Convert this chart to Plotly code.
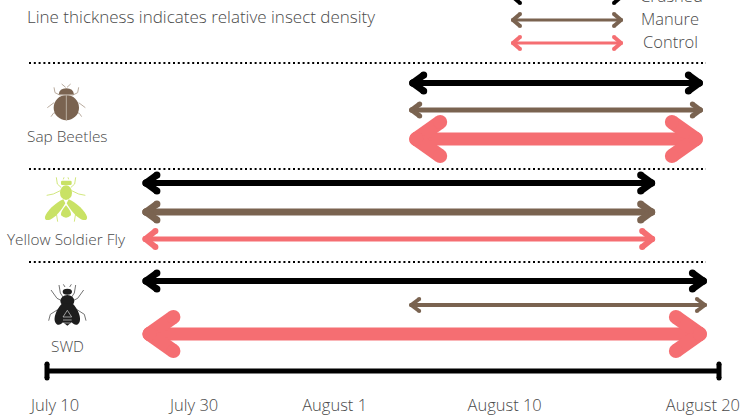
import base64
import plotly.graph_objects as go

# ---------- data ----------
insects = ["Sap Beetles", "Yellow Soldier Fly", "SWD"]
treatments = ["Crushed", "Manure", "Control"]
tick_labels = ["July 10", "July 30", "August 1", "August 10", "August 20"]
tick_values = [1.2, 21.9, 42.8, 68.1, 97.6]

# timeline position (0 = start of the season bar, 100 = end of it)
crushed_start = [53.9, 14.2, 14.2]
crushed_end = [97.6, 90.5, 98.2]
manure_start = [53.9, 14.2, 53.9]
manure_end = [97.6, 90.5, 98.2]
control_start = [53.9, 14.2, 14.2]
control_end = [97.6, 90.5, 98.2]

# relative insect density, drawn as line thickness
crushed_density = [6, 6, 6]
manure_density = [5, 7, 4]
control_density = [13, 5, 13]

# ---------- layout constants ----------
W, H, PLOT_H = 741, 416, 386
TL_X0, PX_PER_UNIT = 47, 6.72
BLACK, BROWN, CORAL, TEXT = "#000000", "#7a6350", "#f56e72", "#4a4a4a"
colors = [BLACK, BROWN, CORAL]
row_y = [[83, 110, 139], [183, 212, 239], [281, 305, 334]]
sep_y = [63, 169, 262]
# head stroke, head length, head half-height
head_style = [
    [(7, 11, 8), (5, 8, 6), (14, 24, 17)],
    [(7, 11, 8), (7, 11, 8), (6, 10, 8)],
    [(7, 11, 8), (4, 8, 6), (14, 24, 17)],
]


def u(px):
    return (px - TL_X0) / PX_PER_UNIT


fig = go.Figure()


def line(xs, ys, color, width, dash=None, caps=True):
    fig.add_trace(go.Scatter(
        x=xs, y=ys, mode="lines+markers" if caps else "lines",
        line=dict(color=color, width=width, dash=dash),
        marker=dict(color=color, size=width, line=dict(width=0)),
        hoverinfo="skip", showlegend=False,
    ))


def arrow(start, end, y, color, width, head):
    stroke, hl, hh = head
    pad = stroke / 2 / PX_PER_UNIT
    dx = hl / PX_PER_UNIT
    tip_l, tip_r = start + pad, end - pad
    line([tip_l, tip_r], [y, y], color, width)
    # each barb is its own segment, so the tip stays round instead of mitred
    line([tip_r - dx, tip_r, None, tip_r - dx, tip_r], [y - hh, y, None, y + hh, y], color, stroke)
    line([tip_l + dx, tip_l, None, tip_l + dx, tip_l], [y - hh, y, None, y + hh, y], color, stroke)


# separators
for y in sep_y:
    line([u(29), u(706)], [y, y], "#000000", 2, dash="2px,2.8px", caps=False)

# rows
starts = [crushed_start, manure_start, control_start]
ends = [crushed_end, manure_end, control_end]
dens = [crushed_density, manure_density, control_density]
for r in range(len(insects)):
    for t in range(len(treatments)):
        arrow(starts[t][r], ends[t][r], row_y[r][t], colors[t], dens[t][r], head_style[r][t])

# legend arrows
for y, c in zip([-3, 20, 43], colors):
    arrow(u(511), u(623), y, c, 3, (4, 7, 6))

# timeline
line([0, 100], [371, 371], BLACK, 5, caps=False)
line([0, 0], [364, 378], BLACK, 5)
line([100, 100], [364, 378], BLACK, 5)


# ---------- text ----------
def label(px, py, text, size=15.4, anchor="center"):
    fig.add_annotation(
        x=px / W, y=1 - py / PLOT_H, xref="paper", yref="paper", text=text,
        showarrow=False, xanchor=anchor, yanchor="middle",
        font=dict(family="Open Sans", size=size, color=TEXT, weight=300),
    )


label(25, 16, "Line thickness indicates relative insect density", 17, "left")
label(671, -4, treatments[0], 16.5)
label(670, 19, treatments[1], 16.5)
label(670, 42, treatments[2], 16.5)
label(67, 137, insects[0])
label(66, 239, insects[1])
label(67, 346, insects[2])

# ---------- icons ----------
BEETLE = f"""<svg xmlns='http://www.w3.org/2000/svg' viewBox='0 0 210 150'>
<g fill='none' stroke='#b9ab9e' stroke-width='3'>
<path d='M95 12L107 22M122 12L111 22M72 22L75 38L87 44M146 22L143 38L131 44M52 83L72 68M166 83L146 68M63 110L70 100L82 96M155 110L148 100L136 96'/></g>
<path d='M86 44Q88 25 109 25Q130 25 132 44Z' fill='{BROWN}'/>
<circle cx='109' cy='83' r='38' fill='{BROWN}'/>
<path d='M88 45H130M109 45V122' fill='none' stroke='#b9ab9e' stroke-width='3'/>
</svg>"""

GREEN = "#c9e265"
SOLDIER = f"""<svg xmlns='http://www.w3.org/2000/svg' viewBox='0 0 180 180'>
<g fill='none' stroke='{GREEN}' stroke-width='2.5'>
<path d='M64 22L67 42L78 52M122 22L119 42L108 52M35 76L55 72L76 62M151 76L131 72L110 62M68 155L64 130M118 155L122 130M85 28L87 22M101 28L99 22'/></g>
<rect x='78' y='32' width='32' height='13' rx='4' fill='{GREEN}'/>
<ellipse cx='93' cy='68' rx='18' ry='22' fill='{GREEN}'/>
<path d='M85 88C60 98 35 125 30 140C28 150 35 152 45 149C62 142 80 120 91 100Z' fill='{GREEN}'/>
<path d='M101 88C126 98 151 125 156 140C158 150 151 152 141 149C124 142 106 120 95 100Z' fill='{GREEN}'/>
<path d='M93 106Q110 125 108 136Q93 150 78 136Q76 125 93 106Z' fill='{GREEN}'/>
</svg>"""

DARK = "#1d1d1d"
SWD = f"""<svg xmlns='http://www.w3.org/2000/svg' viewBox='0 0 180 180'>
<g fill='none' stroke='#555555' stroke-width='2.5'>
<path d='M72 30L76 54L84 66M122 30L118 54L110 66M48 45L66 70L78 76M146 45L128 70L116 76M41 137L46 118L68 104M153 137L148 118L126 104M85 28L90 36M109 28L104 36'/></g>
<ellipse cx='97' cy='50' rx='14' ry='9' fill='{DARK}'/>
<ellipse cx='97' cy='78' rx='21' ry='18' fill='{DARK}'/>
<path d='M82 85C62 105 56 130 60 140C64 152 76 152 84 142L97 152L110 142C118 152 130 152 134 140C138 130 132 105 112 85Z' fill='{DARK}'/>
<path d='M84 126L97 106L110 126ZM84 135H110M87 144H107' fill='none' stroke='#dddddd' stroke-width='2'/>
</svg>"""


def icon(svg, x, y, w, h):
    src = "data:image/svg+xml;base64," + base64.b64encode(svg.encode()).decode()
    fig.add_layout_image(dict(
        source=src, xref="paper", yref="paper",
        x=x / W, y=1 - y / PLOT_H, sizex=w / W, sizey=h / PLOT_H,
        xanchor="left", yanchor="top", sizing="stretch", layer="above",
    ))


icon(BEETLE, 30, 80, 70, 50)
icon(SOLDIER, 35, 170, 60, 60)
icon(SWD, 35, 275, 60, 60)

fig.update_layout(
    width=W, height=H, margin=dict(l=0, r=0, t=0, b=H - PLOT_H),
    paper_bgcolor="white", plot_bgcolor="white",
    xaxis=dict(
        range=[u(0), u(W)], tickmode="array", tickvals=tick_values, ticktext=tick_labels,
        showgrid=False, zeroline=False, showline=False,
        ticks="outside", ticklen=4, tickcolor="rgba(0,0,0,0)",
        tickfont=dict(family="Open Sans", size=16.5, color=TEXT, weight=300),
    ),
    yaxis=dict(range=[PLOT_H, 0], visible=False),
)

fig.write_html(
    "out.html",
    config={"displayModeBar": False},
    post_script="document.body.style.margin='0';document.documentElement.style.overflow='hidden';",
)
